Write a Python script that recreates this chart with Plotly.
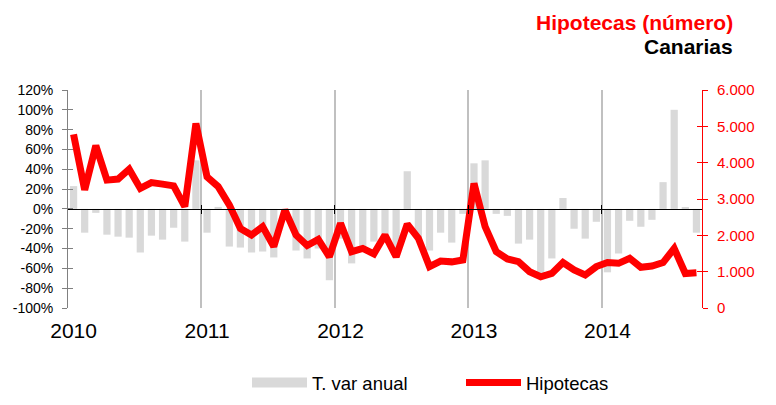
import plotly.graph_objects as go

# ---------------- data ----------------
years = ["2010", "2011", "2012", "2013", "2014"]
month_abbr = ["ene", "feb", "mar", "abr", "may", "jun", "jul", "ago", "sep", "oct", "nov", "dic"]
months = [f"{m}-{y[2:]}" for y in years for m in month_abbr][:57]  # Jan 2010 .. Sep 2014

var_anual = [23, -24, -4, -26, -28, -29, -44, -27, -31, -19, -33, 49,
             -24, 2, -38, -39, -44, -43, -49, -4, -42, -50, -40, -72,
             -30, -55, -42, -33, -25, -42, 38, -30, -42, -24, -34, -5,
             46, 49, -5, -7, -35, -31, -65, -50, 11, -20, -30, -13,
             -64, -45, -12, -18, -11, 27, 100, 1, -24]

hipotecas = [4780, 3250, 4470, 3520, 3550, 3820, 3290, 3450, 3410, 3360, 2790, 5080,
             3610, 3340, 2840, 2190, 2010, 2240, 1690, 2700, 2010, 1720, 1890, 1410,
             2330, 1550, 1640, 1490, 2010, 1410, 2310, 1920, 1140, 1290, 1270, 1320,
             3430, 2240, 1550, 1350, 1275, 1000, 860, 950, 1250, 1045, 910, 1140,
             1250, 1230, 1370, 1120, 1155, 1250, 1640, 950, 970]

left_ticks = list(range(-100, 121, 20))
left_ticktext = [f"{v}%" for v in left_ticks]
right_ticks = list(range(0, 6001, 1000))

title_1 = "Hipotecas (número)"
title_2 = "Canarias"
name_bar = "T. var anual"
name_line = "Hipotecas"

# ---------------- derived ----------------
n = len(months)
xr = [-0.5, n - 0.5]
year_starts = [m for m in months if m.startswith("ene")]
boundaries = [i - 0.5 for i, m in enumerate(months) if m.startswith("ene") and i > 0]

FONT = "Liberation Sans, Arial, sans-serif"
GRAY_BAR = "#d9d9d9"
RED = "#ff0000"

fig = go.Figure()

fig.add_trace(go.Bar(x=months, y=var_anual, name=name_bar, marker_color=GRAY_BAR,
                     marker_line_width=0, yaxis="y", showlegend=False))
# legend proxy for the bars (legend only)
fig.add_trace(go.Scatter(x=[None], y=[None], mode="lines", name=name_bar,
                         line=dict(color=GRAY_BAR, width=12), yaxis="y"))
fig.add_trace(go.Scatter(x=months, y=hipotecas, name=name_line, mode="lines",
                         line=dict(color=RED, width=7), yaxis="y2"))

# helper empty traces so overlay axes get drawn
fig.add_trace(go.Scatter(x=[], y=[], xaxis="x2", yaxis="y", showlegend=False, hoverinfo="skip"))
fig.add_trace(go.Scatter(x=[], y=[], xaxis="x3", yaxis="y", showlegend=False, hoverinfo="skip"))
fig.add_trace(go.Scatter(x=[], y=[], xaxis="x", yaxis="y3", showlegend=False, hoverinfo="skip"))
fig.add_trace(go.Scatter(x=[], y=[], xaxis="x", yaxis="y4", showlegend=False, hoverinfo="skip"))

zero_pos = (0 - left_ticks[0]) / (left_ticks[-1] - left_ticks[0])

fig.update_layout(
    width=776, height=405,
    margin=dict(l=68, r=74, t=90, b=97, autoexpand=False),
    paper_bgcolor="white", plot_bgcolor="white",
    separators=",.",
    font=dict(family=FONT, color="black", size=14),
    bargap=0.35,
    showlegend=True,
    legend=dict(orientation="h", x=(247 - 68) / 634, xanchor="left",
                yref="container", y=1 - 383 / 405, yanchor="middle",
                font=dict(size=18.5, family=FONT), itemwidth=55, tracegroupgap=0,
                entrywidth=144, entrywidthmode="pixels",
                bgcolor="rgba(0,0,0,0)"),
    xaxis=dict(type="category", categoryorder="array", categoryarray=months,
               range=xr, tickmode="array", tickvals=year_starts, ticktext=years,
               showgrid=False, showline=False, ticks="", zeroline=False, automargin=False,
               tickfont=dict(size=21, family=FONT), ticklabelstandoff=8),
    xaxis2=dict(overlaying="x", anchor="free", position=zero_pos, side="bottom",
                range=xr, tickmode="array", tickvals=boundaries, showticklabels=False,
                showgrid=True, gridcolor="#c0c0c0", gridwidth=2, automargin=False,
                showline=True, linecolor="black", linewidth=1,
                ticks="outside", ticklen=4, tickcolor="black", tickwidth=1, zeroline=False),
    xaxis3=dict(overlaying="x", anchor="free", position=zero_pos, side="top",
                range=xr, tickmode="array", tickvals=boundaries, showticklabels=False,
                showgrid=False, showline=False, automargin=False,
                ticks="outside", ticklen=4, tickcolor="black", tickwidth=1, zeroline=False),
    yaxis=dict(range=[left_ticks[0], left_ticks[-1]], tickmode="array", tickvals=left_ticks,
               ticktext=left_ticktext, showgrid=False, zeroline=False, automargin=False,
               showline=True, linecolor="#808080", linewidth=1,
               ticks="outside", ticklen=5, tickcolor="#808080",
               tickfont=dict(size=14, color="black"), ticklabelstandoff=6),
    yaxis3=dict(overlaying="y", anchor="x", side="left", automargin=False,
                range=[left_ticks[0], left_ticks[-1]], tickmode="array", tickvals=left_ticks,
                showticklabels=False, showgrid=False, zeroline=False, showline=False,
                ticks="inside", ticklen=5, tickcolor="#808080"),
    yaxis2=dict(overlaying="y", anchor="x", side="right", automargin=False,
                range=[right_ticks[0], right_ticks[-1]], tickmode="array", tickvals=right_ticks,
                tickformat=",.0f", showgrid=False, zeroline=False,
                showline=True, linecolor=RED, linewidth=1,
                ticks="outside", ticklen=5, tickcolor=RED,
                tickfont=dict(size=15, color=RED), ticklabelstandoff=6),
    yaxis4=dict(overlaying="y", anchor="x", side="right", automargin=False,
                range=[right_ticks[0], right_ticks[-1]], tickmode="array", tickvals=right_ticks,
                showticklabels=False, showgrid=False, zeroline=False, showline=False,
                ticks="inside", ticklen=5, tickcolor=RED),
    annotations=[
        dict(text=f"<b>{title_1}</b>", xref="paper", yref="paper", x=(735 - 68) / 634,
             y=(308 - 23) / 218, xanchor="right", yanchor="middle", showarrow=False,
             font=dict(size=21, color=RED, family=FONT)),
        dict(text=f"<b>{title_2}</b>", xref="paper", yref="paper", x=(735 - 68) / 634,
             y=(308 - 47) / 218, xanchor="right", yanchor="middle", showarrow=False,
             font=dict(size=21, color="black", family=FONT)),
    ],
)

fig.write_html("out.html", config={"displayModeBar": False},
               post_script="document.body.style.margin='0';")
